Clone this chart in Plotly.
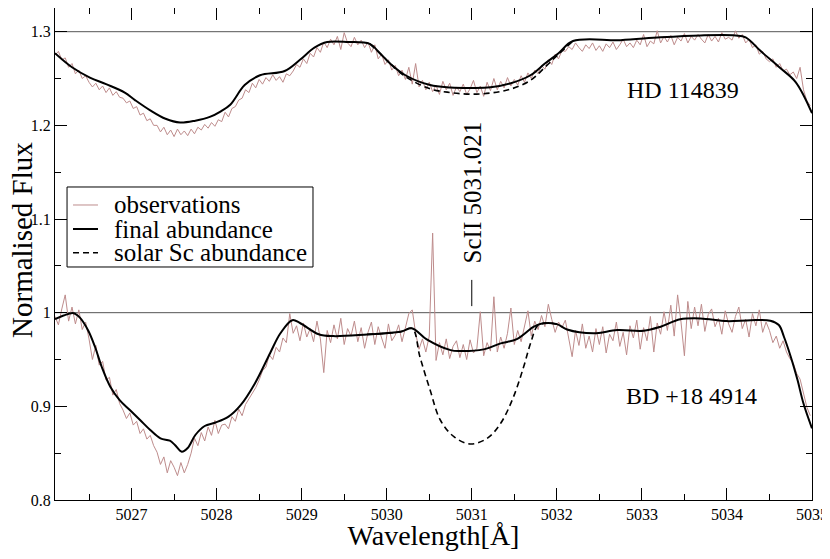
import numpy as np
import plotly.graph_objects as go

# ---------------- data ----------------
wl_start = 5026.10
wl_step = 0.04

obs_hd = [
    1.275, 1.279, 1.270, 1.272, 1.262, 1.266, 1.255, 1.259, 1.250, 1.253,
    1.246, 1.241, 1.245, 1.238, 1.242, 1.235, 1.240, 1.232, 1.236, 1.230,
    1.229, 1.224, 1.226, 1.218, 1.220, 1.211, 1.213, 1.205, 1.207, 1.200,
    1.200, 1.193, 1.198, 1.190, 1.195, 1.188, 1.196, 1.190, 1.194, 1.189,
    1.196, 1.191, 1.198, 1.195, 1.201, 1.197, 1.203, 1.199, 1.206, 1.204,
    1.214, 1.209, 1.218, 1.220, 1.227, 1.229, 1.238, 1.235, 1.245, 1.240,
    1.249, 1.244, 1.251, 1.247, 1.254, 1.248, 1.252, 1.246, 1.255, 1.253,
    1.258, 1.265, 1.262, 1.271, 1.266, 1.277, 1.273, 1.283, 1.278, 1.289,
    1.283, 1.292, 1.286, 1.295, 1.281, 1.299, 1.288, 1.284, 1.294, 1.286,
    1.291, 1.283, 1.289, 1.278, 1.286, 1.271, 1.276, 1.265, 1.270, 1.259,
    1.264, 1.253, 1.259, 1.249, 1.262, 1.244, 1.266, 1.241, 1.248, 1.238,
    1.246, 1.236, 1.243, 1.233, 1.247, 1.238, 1.245, 1.232, 1.241, 1.236,
    1.244, 1.233, 1.239, 1.248, 1.235, 1.242, 1.231, 1.246, 1.237, 1.250,
    1.238, 1.247, 1.240, 1.251, 1.242, 1.249, 1.243, 1.253, 1.246, 1.256,
    1.250, 1.259, 1.255, 1.264, 1.260, 1.270, 1.265, 1.276, 1.271, 1.280,
    1.279, 1.284, 1.281, 1.288, 1.283, 1.279, 1.286, 1.282, 1.288, 1.280,
    1.285, 1.279, 1.287, 1.283, 1.289, 1.281, 1.286, 1.292, 1.284, 1.288,
    1.283, 1.291, 1.286, 1.297, 1.284, 1.290, 1.287, 1.301, 1.288, 1.295,
    1.289, 1.296, 1.286, 1.294, 1.290, 1.298, 1.288, 1.295, 1.291, 1.297,
    1.292, 1.288, 1.297, 1.290, 1.295, 1.289, 1.299, 1.292, 1.294, 1.291,
    1.301, 1.293, 1.297, 1.288, 1.292, 1.283, 1.286, 1.276, 1.279, 1.271,
    1.268, 1.271, 1.262, 1.266, 1.258, 1.260, 1.254, 1.257, 1.250, 1.262,
    1.238, 1.226, 1.221,
]

obs_bd = [
    0.996, 0.987, 1.004, 1.019, 0.991, 1.006, 0.988, 1.003, 0.982, 0.990,
    0.972, 0.950, 0.965, 0.944, 0.948, 0.928, 0.931, 0.912, 0.918, 0.903,
    0.896, 0.887, 0.893, 0.880, 0.884, 0.871, 0.876, 0.865, 0.869, 0.858,
    0.851, 0.838, 0.846, 0.829, 0.842, 0.835, 0.826, 0.840, 0.829, 0.838,
    0.850, 0.866, 0.858, 0.872, 0.863, 0.878, 0.869, 0.885, 0.871, 0.880,
    0.881, 0.876, 0.889, 0.884, 0.897, 0.890, 0.902, 0.908, 0.914, 0.920,
    0.928, 0.938, 0.942, 0.955, 0.950, 0.963, 0.958, 0.973, 0.968, 0.999,
    0.978, 0.986, 0.970, 0.989, 0.974, 0.983, 0.969, 0.991, 0.972, 0.936,
    0.981, 0.968, 0.987, 0.972, 0.994, 0.966, 0.983, 0.975, 0.991, 0.969,
    0.984, 0.962, 0.979, 0.990, 0.966, 0.985, 0.973, 0.962, 0.988, 0.970,
    0.976, 0.987, 0.969, 0.983, 0.999, 1.003, 0.978, 0.961, 0.972, 0.958,
    0.975, 1.085, 0.949, 0.968, 0.955, 0.972, 0.951, 0.964, 0.970, 0.952,
    0.966, 0.950, 0.971, 0.957, 0.962, 1.001, 0.954, 0.968, 0.959, 1.017,
    0.958, 0.974, 0.962, 0.978, 1.005, 0.966, 0.981, 0.969, 0.986, 1.002,
    0.975, 0.991, 0.982, 0.997, 0.985, 1.009, 0.993, 0.979, 0.990, 0.984,
    0.992, 0.972, 0.953, 0.981, 0.965, 0.988, 0.962, 0.975, 0.958, 0.983,
    0.966, 0.985, 0.957, 0.977, 0.970, 0.990, 0.964, 0.979, 0.955, 0.986,
    0.973, 0.992, 0.961, 0.984, 0.970, 0.996, 0.958, 0.989, 0.977, 1.001,
    0.981, 1.008, 0.975, 1.019, 0.990, 0.954, 1.012, 0.983, 1.006, 0.986,
    1.009, 0.980, 0.998, 1.004, 0.985, 0.994, 0.977, 1.002, 0.988, 0.979,
    0.996, 1.006, 0.983, 0.993, 0.974, 0.999, 0.986, 1.003, 0.979, 0.990,
    0.981, 0.968, 0.975, 0.962, 0.970, 0.958, 0.951, 0.946, 0.935, 0.929,
    0.914, 0.899, 0.890,
]

wl_obs = np.round(wl_start + wl_step * np.arange(len(obs_hd)), 2)

# final-abundance synthetic spectra
fit_hd_wl = [5026.10, 5026.30, 5026.51, 5026.70, 5026.92, 5027.04, 5027.22, 5027.40,
             5027.57, 5027.75, 5027.92, 5028.05, 5028.16, 5028.33, 5028.51, 5028.80,
             5028.98, 5029.15, 5029.30, 5029.55, 5029.80, 5029.92, 5030.04, 5030.22,
             5030.51, 5030.75, 5030.98, 5031.22, 5031.45, 5031.69, 5031.86, 5032.02,
             5032.19, 5032.75, 5033.22, 5033.69, 5034.10, 5034.22, 5034.40, 5034.63,
             5034.81, 5035.00]
fit_hd = [1.277, 1.262, 1.251, 1.244, 1.235, 1.227, 1.216, 1.207,
          1.203, 1.205, 1.209, 1.215, 1.222, 1.243, 1.2535, 1.258,
          1.270, 1.283, 1.289, 1.289, 1.287, 1.277, 1.266, 1.2535,
          1.243, 1.2405, 1.240, 1.2406, 1.2447, 1.2535, 1.266, 1.277,
          1.290, 1.291, 1.294, 1.296, 1.296, 1.294, 1.279, 1.261,
          1.246, 1.213]

solar_hd_wl = [5029.80, 5029.92, 5030.04, 5030.22, 5030.51, 5030.75, 5030.98,
               5031.22, 5031.45, 5031.69, 5031.86, 5032.02, 5032.19]
solar_hd = [1.287, 1.277, 1.266, 1.252, 1.239, 1.235, 1.2333,
            1.2345, 1.2385, 1.248, 1.262, 1.276, 1.290]

fit_bd_wl = [5026.10, 5026.20, 5026.32, 5026.39, 5026.49, 5026.57, 5026.65, 5026.75,
             5026.86, 5026.98, 5027.10, 5027.22, 5027.34, 5027.45, 5027.51, 5027.59,
             5027.66, 5027.75, 5027.86, 5027.98, 5028.14, 5028.28, 5028.45, 5028.63,
             5028.75, 5028.89, 5028.98, 5029.20, 5029.37, 5029.77, 5030.16, 5030.30,
             5030.47, 5030.75, 5030.86, 5031.14, 5031.34, 5031.53, 5031.73, 5031.84,
             5032.00, 5032.12, 5032.43, 5032.71, 5033.02, 5033.22, 5033.45, 5033.69,
             5034.00, 5034.28, 5034.51, 5034.61, 5034.67, 5034.75, 5034.83, 5034.90,
             5035.00]
fit_bd = [0.993, 0.997, 0.9995, 0.995, 0.981, 0.9636, 0.942, 0.921,
          0.9067, 0.896, 0.8854, 0.8747, 0.8658, 0.8633, 0.8587, 0.8516,
          0.8555, 0.8694, 0.879, 0.8825, 0.889, 0.901, 0.9245, 0.957,
          0.978, 0.992, 0.989, 0.977, 0.975, 0.9768, 0.9796, 0.9832,
          0.9715, 0.960, 0.959, 0.9608, 0.9672, 0.9718, 0.985, 0.9886,
          0.9878, 0.982, 0.978, 0.9814, 0.9807, 0.985, 0.9929, 0.9939,
          0.991, 0.992, 0.9914, 0.9868, 0.9743, 0.953, 0.928, 0.903,
          0.8765]

solar_bd_wl = [5029.77, 5030.16, 5030.30, 5030.39, 5030.51, 5030.63, 5030.79, 5030.98,
               5031.18, 5031.34, 5031.49, 5031.61, 5031.69, 5031.77, 5031.84, 5032.00]
solar_bd = [0.9768, 0.9796, 0.9832, 0.953, 0.9174, 0.8854, 0.8676, 0.8598,
            0.8658, 0.8819, 0.910, 0.9423, 0.967, 0.9857, 0.9886, 0.9878]

continuum_levels = [1.0, 1.3]
line_label = "ScII 5031.021"
line_wl = 5031.0
line_mark_y = [1.007, 1.035]
star_labels = ["HD 114839", "BD +18 4914"]
star_label_pos = [(5033.48, 1.238), (5033.58, 0.911)]
legend_names = ["observations", "final abundance", "solar Sc abundance"]

# ---------------- styling ----------------
FONT = "Liberation Serif, Times New Roman, serif"
obs_color = "rgb(190,140,140)"
styles = {
    "observations": dict(color=obs_color, width=1),
    "final abundance": dict(color="black", width=2),
    "solar Sc abundance": dict(color="black", width=1.6, dash="6px,4px"),
}

fig = go.Figure()

for obs in [obs_hd, obs_bd]:
    fig.add_trace(go.Scatter(x=wl_obs, y=obs, mode="lines",
                             line=styles["observations"], name="observations",
                             showlegend=False))

for xs, ys in [(solar_hd_wl, solar_hd), (solar_bd_wl, solar_bd)]:
    fig.add_trace(go.Scatter(x=xs, y=ys, mode="lines",
                             line=dict(**styles["solar Sc abundance"], shape="spline"),
                             name="solar Sc abundance", showlegend=False))

for xs, ys in [(fit_hd_wl, fit_hd), (fit_bd_wl, fit_bd)]:
    fig.add_trace(go.Scatter(x=xs, y=ys, mode="lines",
                             line=dict(**styles["final abundance"], shape="spline"),
                             name="final abundance", showlegend=False))

for lev in continuum_levels:
    fig.add_shape(type="line", xref="paper", x0=0, x1=1, yref="y", y0=lev, y1=lev,
                  line=dict(color="#555555", width=1), layer="below")

fig.add_shape(type="line", xref="x", yref="y", x0=line_wl, x1=line_wl,
              y0=line_mark_y[0], y1=line_mark_y[1], line=dict(color="black", width=1))

fig.add_annotation(x=line_wl + 0.01, y=1.128, text=line_label, textangle=-90,
                   showarrow=False, font=dict(family=FONT, size=25, color="black"))

for lab, (lx, ly) in zip(star_labels, star_label_pos):
    fig.add_annotation(x=lx, y=ly, text=lab, showarrow=False,
                       font=dict(family=FONT, size=24, color="black"))

# ---- legend box (drawn in paper coordinates) ----
box = dict(x0=0.0159, x1=0.3408, y0=0.4736, y1=0.6362)
fig.add_shape(type="rect", xref="paper", yref="paper", **box,
              line=dict(color="black", width=1), fillcolor="white", layer="above")
row_y = [0.5996, 0.5508, 0.5026]
for name, ry in zip(legend_names, row_y):
    fig.add_shape(type="line", xref="paper", yref="paper", x0=0.0238, x1=0.0568,
                  y0=ry, y1=ry, line=styles[name], layer="above")
    fig.add_annotation(xref="paper", yref="paper", x=0.0753, y=ry, text=name,
                       xanchor="left", yanchor="middle", showarrow=False,
                       font=dict(family=FONT, size=25, color="black"))

# y-axis title placed as a rotated annotation
fig.add_annotation(xref="paper", yref="paper", x=-0.0436, y=0.5285,
                   text="Normalised Flux", textangle=-90, showarrow=False,
                   xanchor="center", yanchor="middle", borderpad=0,
                   font=dict(family=FONT, size=29, color="black"))

axis_common = dict(ticks="inside", ticklen=12, tickwidth=1, tickcolor="black",
                   showline=True, linecolor="black", linewidth=1, mirror="ticks",
                   showgrid=False, zeroline=False,
                   tickfont=dict(family=FONT, size=16, color="black"))

fig.update_xaxes(range=[5026.1, 5035.0], dtick=1, tick0=5027,
                 ticklabeloverflow="allow",
                 minor=dict(dtick=0.5, tick0=5026.5, ticks="inside", ticklen=6,
                            tickcolor="black", tickwidth=1),
                 title=dict(text="Wavelength[Å]", font=dict(family=FONT, size=28, color="black"),
                            standoff=5),
                 **axis_common)
fig.update_yaxes(range=[0.8, 1.3253], dtick=0.1, tick0=0.8,
                 minor=dict(dtick=0.05, tick0=0.8, ticks="inside", ticklen=6,
                            tickcolor="black", tickwidth=1),
                 **axis_common)

fig.update_layout(
    width=822, height=543,
    margin=dict(l=47, r=18, t=0, b=51),
    paper_bgcolor="white", plot_bgcolor="white",
    font=dict(family=FONT, color="black"),
    showlegend=False,
)

fig.write_html("out.html")
